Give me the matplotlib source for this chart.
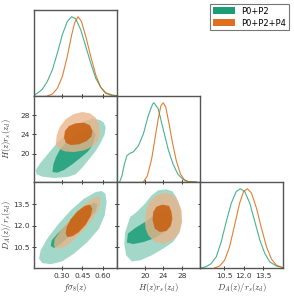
import numpy as np
import matplotlib
matplotlib.use('Agg')
import matplotlib.pyplot as plt
from matplotlib.patches import Patch

plt.rcParams['mathtext.fontset'] = 'cm'
plt.rcParams['font.family'] = 'DejaVu Sans'

green = '#1b9e77'
orange = '#d95f02'
names = ['P0+P2', 'P0+P2+P4']

# axis ranges
fs8_lim = [0.10, 0.70]
h_lim = [14.1, 31.8]
h_ylim = [14.1, 32.0]
da_lim = [8.6, 15.05]
da_ylim = [9.06, 15.06]

fs8_ticks = [0.30, 0.45, 0.60]
h_ticks = [20, 24, 28]
da_ticks = [10.5, 12.0, 13.5]

# --- 1D marginals (normalised to peak) ---
fs8_g_x = [0.100, 0.124, 0.160, 0.196, 0.233, 0.269, 0.305, 0.341, 0.372, 0.401, 0.437, 0.474, 0.510, 0.546, 0.582, 0.618, 0.666, 0.703]
fs8_g_p = [0.013, 0.034, 0.085, 0.182, 0.331, 0.542, 0.775, 0.941, 1.000, 0.975, 0.839, 0.627, 0.415, 0.225, 0.110, 0.042, 0.013, 0.004]
fs8_o_x = [0.196, 0.233, 0.269, 0.305, 0.341, 0.370, 0.394, 0.418, 0.442, 0.474, 0.510, 0.546, 0.582, 0.618, 0.666, 0.703]
fs8_o_p = [0.000, 0.025, 0.097, 0.246, 0.500, 0.754, 0.924, 1.000, 0.945, 0.754, 0.500, 0.267, 0.110, 0.034, 0.004, 0.000]

h_g_x = [14.66, 15.15, 15.65, 16.21, 16.91, 17.61, 18.67, 19.72, 20.78, 21.69, 21.97, 22.89, 23.94, 25.00, 26.05, 27.10, 28.16, 29.21, 31.0]
h_g_p = [0.000, 0.076, 0.220, 0.331, 0.364, 0.381, 0.458, 0.606, 0.839, 0.983, 1.000, 0.924, 0.669, 0.415, 0.225, 0.097, 0.034, 0.004, 0.0]
h_o_x = [19.72, 20.57, 21.48, 22.18, 22.89, 23.45, 23.94, 24.50, 25.21, 25.91, 26.75, 27.66, 28.51, 29.56, 31.0]
h_o_p = [0.000, 0.076, 0.288, 0.542, 0.796, 0.958, 1.000, 0.945, 0.733, 0.500, 0.267, 0.097, 0.025, 0.000, 0.0]

da_g_x = [8.68, 9.07, 9.46, 9.86, 10.25, 10.64, 11.03, 11.42, 11.73, 12.07, 12.47, 12.86, 13.25, 13.64, 14.03, 14.55, 15.05]
da_g_p = [0.000, 0.017, 0.055, 0.140, 0.331, 0.585, 0.818, 0.966, 1.000, 0.966, 0.818, 0.585, 0.352, 0.182, 0.076, 0.025, 0.004]
da_o_x = [9.72, 10.12, 10.51, 10.90, 11.29, 11.68, 11.99, 12.28, 12.60, 12.99, 13.38, 13.77, 14.16, 14.55, 15.05]
da_o_p = [0.000, 0.025, 0.097, 0.267, 0.542, 0.818, 0.966, 1.000, 0.945, 0.754, 0.500, 0.267, 0.110, 0.034, 0.004]

# --- 2D contours (68/95 outlines) ---
# H vs fs8
hf_g95_x = [0.112, 0.119, 0.160, 0.245, 0.341, 0.401, 0.449, 0.498, 0.546, 0.582, 0.611, 0.618, 0.606, 0.577, 0.522, 0.437, 0.341, 0.269, 0.208, 0.148]
hf_g95_y = [16.60, 15.70, 15.21, 14.93, 15.14, 15.70, 17.08, 18.82, 20.55, 22.29, 24.02, 25.41, 26.45, 27.00, 27.28, 26.45, 24.37, 22.29, 20.21, 18.12]
hf_g68_x = [0.233, 0.240, 0.257, 0.288, 0.329, 0.389, 0.462, 0.522, 0.546, 0.522, 0.486, 0.437, 0.377, 0.317, 0.269]
hf_g68_y = [16.18, 17.78, 19.16, 20.90, 22.29, 23.54, 24.72, 25.06, 24.02, 21.59, 20.34, 19.16, 17.78, 16.60, 16.04]
hf_o95_x = [0.257, 0.264, 0.288, 0.329, 0.384, 0.449, 0.505, 0.546, 0.570, 0.577, 0.563, 0.522, 0.462, 0.389, 0.322, 0.281]
hf_o95_y = [21.94, 23.81, 25.62, 27.14, 28.18, 28.67, 28.39, 27.49, 26.10, 24.37, 22.63, 21.45, 20.69, 20.34, 20.48, 21.04]
hf_o68_x = [0.317, 0.324, 0.353, 0.401, 0.462, 0.505, 0.522, 0.515, 0.481, 0.425, 0.365, 0.329]
hf_o68_y = [23.33, 24.72, 25.76, 26.31, 26.45, 25.89, 24.72, 23.54, 22.63, 21.94, 21.80, 22.29]

# DA vs fs8
df_g95_x = [0.136, 0.160, 0.221, 0.305, 0.389, 0.486, 0.570, 0.611, 0.625, 0.616, 0.589, 0.546, 0.462, 0.365, 0.269, 0.196, 0.148]
df_g95_y = [9.71, 9.41, 9.32, 9.53, 10.06, 10.87, 11.80, 12.73, 13.66, 14.25, 14.43, 14.36, 13.90, 13.08, 12.04, 11.11, 10.29]
df_g68_x = [0.221, 0.228, 0.281, 0.377, 0.474, 0.529, 0.558, 0.546, 0.462, 0.365, 0.288, 0.245]
df_g68_y = [10.59, 10.99, 11.57, 12.50, 13.25, 13.62, 13.53, 13.01, 12.15, 11.34, 10.69, 10.46]
df_o95_x = [0.245, 0.249, 0.293, 0.365, 0.449, 0.522, 0.565, 0.582, 0.570, 0.522, 0.449, 0.377, 0.317, 0.269]
df_o95_y = [10.59, 11.06, 11.69, 12.50, 13.32, 13.90, 14.06, 13.85, 13.20, 12.46, 11.62, 10.92, 10.50, 10.41]
df_o68_x = [0.329, 0.336, 0.365, 0.413, 0.466, 0.505, 0.522, 0.510, 0.474, 0.425, 0.377, 0.341]
df_o68_y = [11.46, 11.92, 12.46, 13.01, 13.39, 13.48, 13.20, 12.69, 12.08, 11.57, 11.27, 11.22]

# DA vs H
dh_g95_x = [15.65, 15.86, 16.91, 18.32, 20.07, 21.48, 22.89, 24.64, 25.91, 26.75, 27.59, 27.87, 27.31, 26.05, 23.94, 21.48, 19.02, 17.26, 16.07]
dh_g95_y = [10.76, 11.57, 12.62, 12.97, 13.55, 14.13, 14.48, 14.55, 14.41, 14.01, 13.20, 12.27, 11.46, 10.87, 10.41, 9.94, 9.59, 9.52, 9.94]
dh_g68_x = [16.21, 16.42, 17.97, 20.07, 21.83, 23.94, 25.49, 25.70, 24.29, 22.18, 19.72, 17.61]
dh_g68_y = [10.83, 11.46, 11.85, 12.27, 12.73, 13.08, 12.92, 12.15, 11.57, 11.15, 10.87, 10.73]
dh_o95_x = [20.07, 20.28, 21.13, 22.53, 24.29, 25.91, 27.10, 27.87, 28.01, 27.45, 26.19, 24.29, 22.18, 20.78, 20.21]
dh_o95_y = [12.27, 13.08, 13.71, 14.13, 14.32, 14.18, 13.78, 13.08, 12.27, 11.57, 11.06, 10.76, 10.87, 11.34, 11.80]
dh_o68_x = [21.69, 21.83, 22.53, 23.80, 25.19, 25.70, 25.91, 25.56, 24.64, 23.24, 22.18]
dh_o68_y = [12.39, 12.97, 13.34, 13.48, 13.39, 13.01, 12.50, 11.99, 11.64, 11.57, 11.80]

W, H = 294, 296
fig = plt.figure(figsize=(W / 100, H / 100), dpi=100)


def add_ax(left, top, w, h):
    return fig.add_axes([left / W, 1 - (top + h) / H, w / W, h / H])


cols = [34, 117, 200]
rows = [10, 96, 182]
pw, ph = 83, 86

ax11 = add_ax(cols[0], rows[0], pw, ph)
ax21 = add_ax(cols[0], rows[1], pw, ph)
ax22 = add_ax(cols[1], rows[1], pw, ph)
ax31 = add_ax(cols[0], rows[2], pw, ph)
ax32 = add_ax(cols[1], rows[2], pw, ph)
ax33 = add_ax(cols[2], rows[2], pw, ph)

for ax in [ax11, ax21, ax22, ax31, ax32, ax33]:
    for s in ax.spines.values():
        s.set_color('#555555')
        s.set_linewidth(1.0)
    ax.tick_params(labelsize=5.3, length=3.5, width=0.7, direction='inout', colors='#333333', pad=1.5)

# 1D panels
for ax, gx, gp, ox, op, lim, ticks in [
        (ax11, fs8_g_x, fs8_g_p, fs8_o_x, fs8_o_p, fs8_lim, fs8_ticks),
        (ax22, h_g_x, h_g_p, h_o_x, h_o_p, h_lim, h_ticks),
        (ax33, da_g_x, da_g_p, da_o_x, da_o_p, da_lim, da_ticks)]:
    ax.plot(gx, gp, color=green, lw=0.8, alpha=0.8)
    ax.plot(ox, op, color=orange, lw=0.8, alpha=0.8)
    ax.set_xlim(lim)
    ax.set_ylim(0, 1.085)
    ax.set_xticks(ticks)
    ax.set_yticks([])
    ax.tick_params(labelbottom=False)


def contours(ax, g95, g68, o95, o68):
    ax.fill(g95[0], g95[1], color=green, alpha=0.4, lw=0)
    ax.fill(g68[0], g68[1], color=green, alpha=0.85, lw=0)
    ax.fill(o95[0], o95[1], color='#eab48a', alpha=0.78, lw=0)
    ax.fill(o68[0], o68[1], color='#c9600f', alpha=0.88, lw=0)


contours(ax21, (hf_g95_x, hf_g95_y), (hf_g68_x, hf_g68_y), (hf_o95_x, hf_o95_y), (hf_o68_x, hf_o68_y))
contours(ax31, (df_g95_x, df_g95_y), (df_g68_x, df_g68_y), (df_o95_x, df_o95_y), (df_o68_x, df_o68_y))
contours(ax32, (dh_g95_x, dh_g95_y), (dh_g68_x, dh_g68_y), (dh_o95_x, dh_o95_y), (dh_o68_x, dh_o68_y))

ax21.set_xlim(fs8_lim)
ax21.set_ylim(h_ylim)
ax31.set_xlim(fs8_lim)
ax31.set_ylim(da_ylim)
ax32.set_xlim(h_lim)
ax32.set_ylim(da_ylim)

for ax in [ax21, ax31, ax32]:
    ax.tick_params(top=True, right=True)

ax21.set_xticks(fs8_ticks)
ax21.set_yticks(h_ticks)
ax21.tick_params(labelbottom=False)
ax31.set_xticks(fs8_ticks)
ax31.set_yticks(da_ticks)
ax31.set_xticklabels(['0.30', '0.45', '0.60'])
ax31.set_yticklabels(['10.5', '12.0', '13.5'])
ax32.set_xticks(h_ticks)
ax32.set_yticks(da_ticks)
ax32.tick_params(labelleft=False)
ax33.tick_params(labelbottom=True)
ax33.set_xticklabels(['10.5', '12.0', '13.5'])

lab_kw = dict(fontsize=6.2, color='#333333')
ax21.set_ylabel(r'$H(z)r_s(z_d)$', **lab_kw)
ax31.set_ylabel(r'$D_A(z)/r_s(z_d)$', **lab_kw)
ax31.set_xlabel(r'$f\sigma_8(z)$', **lab_kw)
ax32.set_xlabel(r'$H(z)r_s(z_d)$', **lab_kw)
ax33.set_xlabel(r'$D_A(z)/r_s(z_d)$', **lab_kw)
for ax in [ax21, ax31]:
    ax.yaxis.set_label_coords(-0.25, 0.5)
for ax in [ax31, ax32, ax33]:
    ax.xaxis.set_label_coords(0.5, -0.15)

handles = [Patch(facecolor=green, edgecolor='none'), Patch(facecolor='#e07020', edgecolor='none')]
leg = fig.legend(handles, names, loc='upper right', bbox_to_anchor=(291 / W, 1 - 2 / H),
                 fontsize=6, frameon=True, fancybox=False, edgecolor='#555555',
                 handlelength=2.6, handleheight=0.9, borderpad=0.35, labelspacing=0.35,
                 handletextpad=0.8, borderaxespad=0.2)
leg.get_frame().set_linewidth(0.8)

fig.savefig('out.png', dpi=100)
